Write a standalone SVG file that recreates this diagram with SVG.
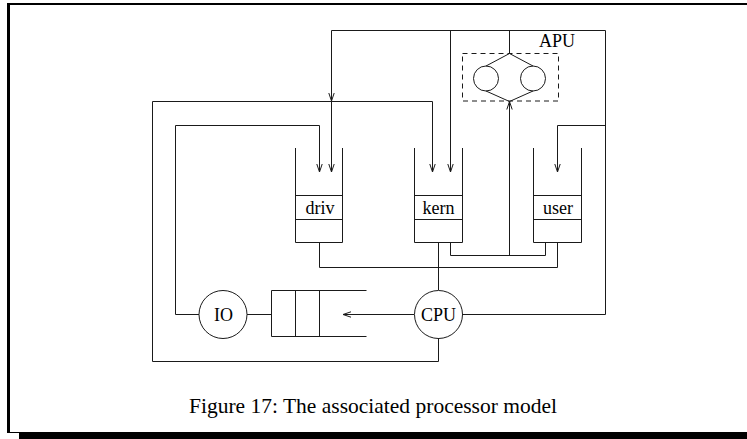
<svg xmlns="http://www.w3.org/2000/svg" width="747" height="439" viewBox="0 0 747 439">
  <style>
    .ln { fill: none; stroke: #1a1a1a; stroke-width: 1; }
    .arr { marker-end: url(#vhead); }
    .lbl { font-family: "Liberation Serif", "Times New Roman", serif; font-size: 18px; fill: #000; text-anchor: middle; }
    .cap { font-family: "Liberation Serif", "Times New Roman", serif; font-size: 21px; fill: #000; }
    .dash { fill: none; stroke: #1a1a1a; stroke-width: 1; stroke-dasharray: 5 4; }
  </style>
  <defs>
    <marker id="vhead" markerUnits="userSpaceOnUse" markerWidth="8" markerHeight="6" viewBox="0 0 8 6" refX="8" refY="3" orient="auto" overflow="visible">
      <path d="M0,0.3 L8,3 L0,5.7" fill="none" stroke="#1a1a1a" stroke-width="1"/>
    </marker>
  </defs>

  <rect width="747" height="439" fill="#fff"/>

  <!-- page frame with drop shadow -->
  <g id="frame" fill="#000">
    <rect x="7" y="3" width="3" height="430"/>
    <rect x="7" y="3" width="740" height="2"/>
    <rect x="7" y="432" width="12" height="1"/>
    <rect x="19" y="432" width="728" height="7"/>
  </g>

  <!-- connectors -->
  <g id="connectors">
    <!-- CPU output loop up to the top bus -->
    <polyline class="ln" points="462,314.5 605.5,314.5 605.5,30.5 331.5,30.5 331.5,101"/>
    <line class="ln arr" x1="331.5" y1="92" x2="331.5" y2="101"/>
    <line class="ln arr" x1="331.5" y1="101" x2="331.5" y2="172"/>
    <line class="ln arr" x1="450.5" y1="30.5" x2="450.5" y2="172"/>
    <line class="ln" x1="509.5" y1="30.5" x2="509.5" y2="53.5"/>
    <polyline class="ln arr" points="605.5,125.5 557.5,125.5 557.5,172"/>
    <!-- outer loop from CPU bottom -->
    <polyline class="ln arr" points="438.5,338 438.5,361.5 152.5,361.5 152.5,101.5 432.5,101.5 432.5,172"/>
    <!-- IO loop -->
    <polyline class="ln arr" points="199,314.5 175.5,314.5 175.5,125.5 319.5,125.5 319.5,172"/>
    <line class="ln" x1="247" y1="314.5" x2="271.5" y2="314.5"/>
    <!-- CPU to IO queue -->
    <line class="ln arr" x1="414" y1="314.5" x2="343" y2="314.5"/>
    <!-- queue outputs -->
    <polyline class="ln" points="319.5,243 319.5,267.5 557.5,267.5 557.5,243"/>
    <line class="ln" x1="438.5" y1="243" x2="438.5" y2="290"/>
    <polyline class="ln" points="450.5,243 450.5,255.5 545.5,255.5 545.5,243"/>
    <line class="ln arr" x1="509.5" y1="255.5" x2="509.5" y2="101.5"/>
  </g>

  <!-- driver queue -->
  <g id="driv">
    <polyline class="ln" points="295.5,148 295.5,242.5 342.5,242.5 342.5,148"/>
    <line class="ln" x1="295.5" y1="195.5" x2="342.5" y2="195.5"/>
    <line class="ln" x1="295.5" y1="219.5" x2="342.5" y2="219.5"/>
    <text class="lbl" x="320" y="214">driv</text>
  </g>

  <!-- kernel queue -->
  <g id="kern">
    <polyline class="ln" points="414.5,148 414.5,242.5 462.5,242.5 462.5,148"/>
    <line class="ln" x1="414.5" y1="195.5" x2="462.5" y2="195.5"/>
    <line class="ln" x1="414.5" y1="219.5" x2="462.5" y2="219.5"/>
    <text class="lbl" x="438.5" y="214">kern</text>
  </g>

  <!-- user queue -->
  <g id="user">
    <polyline class="ln" points="533.5,148 533.5,242.5 581.5,242.5 581.5,148"/>
    <line class="ln" x1="533.5" y1="195.5" x2="581.5" y2="195.5"/>
    <line class="ln" x1="533.5" y1="219.5" x2="581.5" y2="219.5"/>
    <text class="lbl" x="558" y="214">user</text>
  </g>

  <!-- I/O device queue -->
  <g id="ioqueue">
    <polyline class="ln" points="366.5,290.5 271.5,290.5 271.5,336.5 366.5,336.5"/>
    <line class="ln" x1="295.5" y1="290.5" x2="295.5" y2="336.5"/>
    <line class="ln" x1="319.5" y1="290.5" x2="319.5" y2="336.5"/>
  </g>

  <!-- IO server -->
  <g id="io">
    <circle class="ln" cx="223" cy="314.5" r="24"/>
    <text class="lbl" x="223.5" y="320.5">IO</text>
  </g>

  <!-- CPU server -->
  <g id="cpu">
    <circle class="ln" cx="438.5" cy="314.5" r="24"/>
    <text class="lbl" x="438.5" y="320.5">CPU</text>
  </g>

  <!-- associated processor unit -->
  <g id="apu">
    <rect class="dash" x="462.5" y="53.5" width="96" height="47.5"/>
    <polyline class="ln" points="486,66 509.5,53.5 533,66"/>
    <polyline class="ln" points="486,91 509.5,101.5 533,91"/>
    <circle class="ln" cx="486" cy="78.5" r="12.5"/>
    <circle class="ln" cx="533" cy="78.5" r="12.5"/>
    <text class="lbl" x="557" y="47">APU</text>
  </g>

  <text id="caption" class="cap" x="189" y="413" textLength="368" lengthAdjust="spacingAndGlyphs">Figure 17: The associated processor model</text>
</svg>
